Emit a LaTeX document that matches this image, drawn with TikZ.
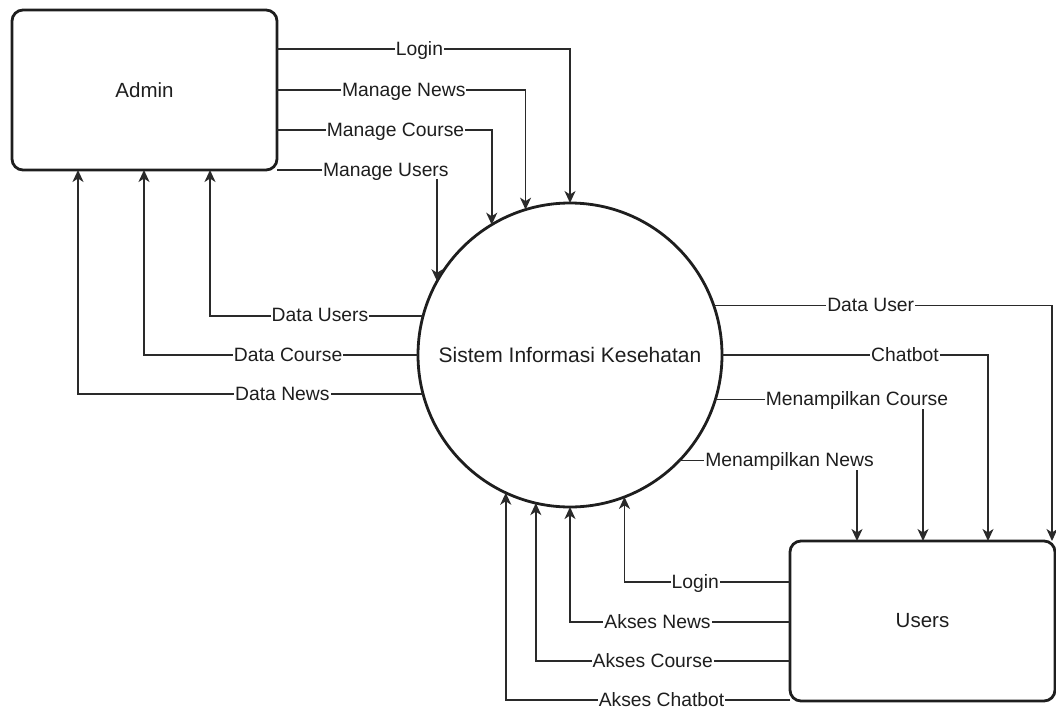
\documentclass[tikz,border=0pt]{standalone}
\usepackage{fontspec}
\setmainfont{Liberation Sans}
\usetikzlibrary{arrows.meta}
\definecolor{ink}{HTML}{1E1E1E}
\definecolor{edge}{HTML}{2A2A2A}
\tikzset{
  entity/.style={draw=ink, line width=2.8pt, rounded corners=11pt, minimum width=265pt, minimum height=160pt, outer sep=0pt, text=ink, font=\fontsize{20.5}{24}\selectfont},
  process/.style={draw=ink, line width=2.8pt, circle, minimum size=304pt, inner sep=0pt, outer sep=0pt, text=ink, font=\fontsize{21}{25}\selectfont},
  flow/.style={draw=edge, line width=1.7pt, -{Stealth[length=12pt,width=11pt,inset=3.5pt]}},
  lbl/.style={fill=white, inner sep=1pt, yshift=-3.5pt, text=ink, text height=0.72em, text depth=0.2em, font=\fontsize{19.3}{23}\selectfont}
}
\begin{document}
\begin{tikzpicture}[x=1pt,y=-1pt]
\useasboundingbox (0,0) rectangle (1056,709);

\node[entity] (admin) at (144.5,90) {Admin};
\node[entity] (users) at (922.5,621) {Users};
\node[process] (sys) at (570,355) {Sistem Informasi Kesehatan};

% Admin -> system
\draw[flow] (admin.east |- 0,49) -| node[lbl,pos=0.243] {Login} (sys.90);
\draw[flow] (admin.east |- 0,90) -| node[lbl,pos=0.255] {Manage News} (sys.107.2);
\draw[flow] (admin.east |- 0,130) -| node[lbl,pos=0.276] {Manage Course} (sys.121.8);
\draw[flow] (admin.east |- 0,170) -| node[lbl,pos=0.34] {Manage Users} (sys.151);

% system -> Admin
\draw[flow] (sys.165.5) -| node[lbl,pos=0.242] {Data Users} (admin.south -| 210,0);
\draw[flow] (sys.180) -| node[lbl,pos=0.237] {Data Course} (admin.south -| 144,0);
\draw[flow] (sys.195.3) -| node[lbl,pos=0.204] {Data News} (admin.south -| 78,0);

% system -> Users
\draw[flow] (sys.19.6) -| node[lbl,pos=0.232] {Data User} (users.north -| 1052,0);
\draw[flow] (sys.0) -| node[lbl,pos=0.344] {Chatbot} (users.north -| 988,0);
\draw[flow] (sys.-17.2) -| node[lbl,pos=0.341] {Menampilkan Course} (users.north -| 923,0);
\draw[flow] (sys.-44.7) -| node[lbl,pos=0.31] {Menampilkan News} (users.north -| 857,0);

% Users -> system
\draw[flow] (users.west |- 0,582) -| node[lbl,pos=0.286] {Login} (sys.-69.2);
\draw[flow] (users.west |- 0,622) -| node[lbl,pos=0.301] {Akses News} (sys.-90.4);
\draw[flow] (users.west |- 0,661) -| node[lbl,pos=0.27] {Akses Course} (sys.-103.7);
\draw[flow] (users.west |- 0,700) -| node[lbl,pos=0.226] {Akses Chatbot} (sys.-115.3);
\end{tikzpicture}
\end{document}
